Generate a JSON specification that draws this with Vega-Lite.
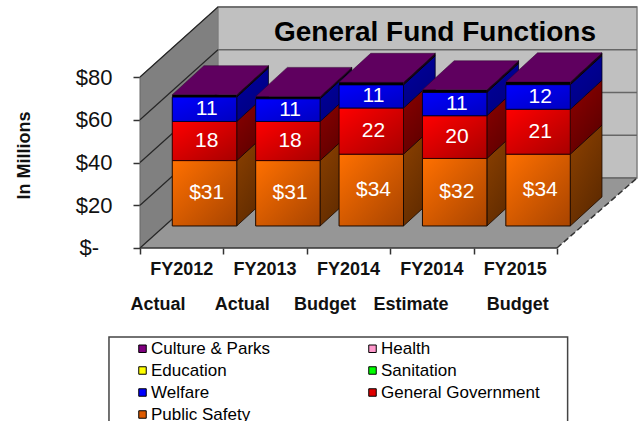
{
"$schema":"https://vega.github.io/schema/vega-lite/v6.json",
"autosize":{"type":"none"},
"padding":{"left":140,"right":3,"top":7,"bottom":173},
"width":497,"height":241,
"background":"#ffffff",
"title":{"text":"General Fund Functions","anchor":"start","frame":"group","font":"Liberation Sans","fontSize":28,"fontWeight":"bold","color":"#000000","dx":134,"dy":42,"offset":0},
"config":{"view":{"stroke":null},
"legend":{"orient":"none","legendX":-6,"legendY":333,"columns":2,"columnPadding":93,"rowPadding":4,"symbolType":"square","symbolSize":56,"symbolStrokeColor":"#000000","symbolStrokeWidth":1,"labelFont":"Liberation Sans","labelFontSize":17,"labelOffset":0,"labelColor":"#000000","titlePadding":0}},
"datasets":{
"depths":[{"d":0},{"d":1}],
"levels":[{"level":0},{"level":20},{"level":40},{"level":60},{"level":80}],
"one":[{"name":"box"}],
"periods":[{"period":"FY2012","basis":"Actual"},{"period":"FY2013","basis":"Actual"},{"period":"FY2014","basis":"Budget"},{"period":"FY2014","basis":"Estimate"},{"period":"FY2015","basis":"Budget"}]
},
"data":{"values":[
{"period":"FY2012","basis":"Actual","series":"Public Safety","value":30.6},
{"period":"FY2012","basis":"Actual","series":"General Government","value":18.3},
{"period":"FY2012","basis":"Actual","series":"Welfare","value":11.4},
{"period":"FY2012","basis":"Actual","series":"Culture & Parks","value":1.1},
{"period":"FY2013","basis":"Actual","series":"Public Safety","value":30.6},
{"period":"FY2013","basis":"Actual","series":"General Government","value":18.3},
{"period":"FY2013","basis":"Actual","series":"Welfare","value":10.6},
{"period":"FY2013","basis":"Actual","series":"Culture & Parks","value":1.1},
{"period":"FY2014","basis":"Budget","series":"Public Safety","value":33.6},
{"period":"FY2014","basis":"Budget","series":"General Government","value":21.6},
{"period":"FY2014","basis":"Budget","series":"Welfare","value":10.8},
{"period":"FY2014","basis":"Budget","series":"Culture & Parks","value":1.2},
{"period":"FY2014","basis":"Estimate","series":"Public Safety","value":31.6},
{"period":"FY2014","basis":"Estimate","series":"General Government","value":20},
{"period":"FY2014","basis":"Estimate","series":"Welfare","value":10.9},
{"period":"FY2014","basis":"Estimate","series":"Culture & Parks","value":1.2},
{"period":"FY2015","basis":"Budget","series":"Public Safety","value":33.6},
{"period":"FY2015","basis":"Budget","series":"General Government","value":21},
{"period":"FY2015","basis":"Budget","series":"Welfare","value":11.5},
{"period":"FY2015","basis":"Budget","series":"Culture & Parks","value":1.3}
]},
"transform":[
{"calculate":"indexof(['FY2012 Actual','FY2013 Actual','FY2014 Budget','FY2014 Estimate','FY2015 Budget'],datum.period+' '+datum.basis)","as":"slot"},
{"calculate":"indexof(['Public Safety','General Government','Welfare','Culture & Parks'],datum.series)","as":"order"},
{"stack":"value","groupby":["slot"],"sort":[{"field":"order","order":"ascending"}],"as":["v0","v1"]},
{"calculate":"datum.slot+0.387","as":"left"},
{"calculate":"datum.slot+1.16","as":"right"},
{"calculate":"10.3+datum.v0","as":"lo"},
{"calculate":"10.3+datum.v1","as":"hi"},
{"calculate":"(datum.lo+datum.hi)/2","as":"mid"},
{"calculate":"datum.slot+0.8","as":"cx"},
{"calculate":"datum.order==0?'$'+format(datum.value,'.0f'):format(datum.value,'.0f')","as":"label"},
{"calculate":"[0,1]","as":"dd"},
{"flatten":["dd"]},
{"calculate":"datum.right+datum.dd*0.38","as":"sx"},
{"calculate":"datum.lo+datum.dd*13.6","as":"sy"},
{"calculate":"datum.hi+datum.dd*13.6","as":"sy2"},
{"calculate":"datum.left+datum.dd*0.38","as":"tx"},
{"calculate":"datum.right+datum.dd*0.38","as":"tx2"}
],
"resolve":{"axis":{"x":"independent","y":"independent"}},
"layer":[
{"data":{"name":"depths"},
 "transform":[{"calculate":"datum.d*0.935","as":"x"},{"calculate":"datum.d*32.75","as":"y"},{"calculate":"80+datum.d*32.75","as":"y2"}],
 "mark":{"type":"area","color":"#808080","stroke":"#666666","strokeWidth":1,"clip":false},
 "encoding":{"x":{"field":"x","type":"quantitative","scale":{"domain":[0,5.96],"nice":false,"zero":false},"title":null,
   "axis":{"orient":"bottom","values":[0,1,2,3,4,5],"labels":false,"domain":false,"grid":false,"tickSize":6,"tickColor":"#333333","tickWidth":1.5,"title":null}},
  "y":{"field":"y","type":"quantitative","scale":{"domain":[0,112.75],"nice":false,"zero":false},
   "axis":{"orient":"left","values":[0,20,40,60,80],"labelExpr":"datum.value==0?'':'$'+datum.value","domain":false,"grid":false,"tickSize":7,"tickColor":"#333333","tickWidth":1.5,"labelPadding":21,"labelFont":"Liberation Sans","labelFontSize":22,"labelColor":"#111111","title":"In Millions","titleFont":"Liberation Sans","titleFontSize":18,"titleFontWeight":"bold","titleColor":"#111111","titleX":-107,"titleY":148}},
  "y2":{"field":"y2"}}},
{"data":{"name":"one"},"mark":{"type":"text","text":"$-","font":"Liberation Sans","fontSize":22,"color":"#111111","align":"right","baseline":"middle"},
 "encoding":{"x":{"datum":-0.49,"type":"quantitative","axis":null},"y":{"datum":0,"type":"quantitative","axis":null}}},
{"data":{"name":"one"},"mark":{"type":"rect","fill":"#c0c0c0","stroke":"#808080","strokeWidth":1.5},
 "encoding":{"x":{"datum":0.935,"type":"quantitative","axis":null},"x2":{"datum":5.96},"y":{"datum":32.75,"type":"quantitative","axis":null},"y2":{"datum":112.75}}},
{"data":{"name":"depths"},
 "transform":[{"calculate":"datum.d*0.935","as":"x"},{"calculate":"5+datum.d*0.96","as":"x2"},{"calculate":"datum.d*32.75","as":"y"}],
 "mark":{"type":"area","orient":"horizontal","color":"#969696"},
 "encoding":{"x":{"field":"x","type":"quantitative","axis":null},"x2":{"field":"x2"},"y":{"field":"y","type":"quantitative","axis":null}}},
{"data":{"name":"levels"},
 "transform":[{"calculate":"datum.level+32.75","as":"back"},{"calculate":"0.935","as":"bx"},{"calculate":"5.96","as":"rx"}],
 "mark":{"type":"rule","color":"#666666","strokeWidth":1.5},
 "encoding":{"x":{"field":"bx","type":"quantitative","axis":null},"x2":{"field":"rx"},"y":{"field":"back","type":"quantitative","axis":null}}},
{"data":{"name":"levels"},
 "transform":[{"calculate":"datum.level+32.75","as":"back"},{"calculate":"0","as":"fx"},{"calculate":"0.935","as":"bx"}],
 "mark":{"type":"rule","color":"#262626","strokeWidth":1.2},
 "encoding":{"x":{"field":"fx","type":"quantitative","axis":null},"x2":{"field":"bx"},"y":{"field":"level","type":"quantitative","axis":null},"y2":{"field":"back"}}},
{"data":{"name":"one"},"mark":{"type":"rule","color":"#333333","strokeWidth":1.5},
 "encoding":{"x":{"datum":0,"type":"quantitative","axis":null},"x2":{"datum":5},"y":{"datum":0,"type":"quantitative","axis":null}}},
{"data":{"name":"one"},"mark":{"type":"rule","color":"#333333","strokeWidth":1.5,"strokeDash":[6,3]},
 "encoding":{"x":{"datum":5,"type":"quantitative","axis":null},"x2":{"datum":5.96},"y":{"datum":0,"type":"quantitative","axis":null},"y2":{"datum":32.75}}},
{"data":{"name":"one"},"mark":{"type":"rect","fill":"#ffffff","stroke":"#444444","strokeWidth":1.5,"clip":false},
 "encoding":{"x":{"datum":-0.372,"type":"quantitative","axis":null},"x2":{"datum":5.128},"y":{"datum":-41.6,"type":"quantitative","axis":null},"y2":{"datum":-95}}},
{"data":{"name":"periods"},
 "transform":[{"window":[{"op":"row_number","as":"n"}]},{"calculate":"datum.n-0.5","as":"px"},{"calculate":"-10.4","as":"py"}],
 "mark":{"type":"text","font":"Liberation Sans","fontSize":18,"fontWeight":"bold","color":"#111111","baseline":"middle","align":"center"},
 "encoding":{"x":{"field":"px","type":"quantitative","axis":null},"y":{"field":"py","type":"quantitative","axis":null},"text":{"field":"period"}}},
{"data":{"name":"periods"},
 "transform":[{"window":[{"op":"row_number","as":"n"}]},{"calculate":"[0.216,1.225,2.22,3.25,4.53][datum.n-1]","as":"px"},{"calculate":"-26.8","as":"py"}],
 "mark":{"type":"text","font":"Liberation Sans","fontSize":18,"fontWeight":"bold","color":"#111111","baseline":"middle","align":"center"},
 "encoding":{"x":{"field":"px","type":"quantitative","axis":null},"y":{"field":"py","type":"quantitative","axis":null},"text":{"field":"basis"}}},
{"transform":[{"filter":"datum.order==0"}],
 "mark":{"type":"area","stroke":"#1a0a00","strokeWidth":0.8,"fill":{"gradient":"linear","x1":0,"y1":0,"x2":0.6,"y2":1,"stops":[{"offset":0,"color":"#8f4200"},{"offset":1,"color":"#5e2a00"}]}},
 "encoding":{"x":{"field":"sx","type":"quantitative","axis":null},"y":{"field":"sy","type":"quantitative","axis":null},"y2":{"field":"sy2"},"detail":{"field":"slot"}}},
{"transform":[{"filter":"datum.order==1"}],
 "mark":{"type":"area","stroke":"#1a0000","strokeWidth":0.8,"fill":{"gradient":"linear","x1":0,"y1":0,"x2":0.6,"y2":1,"stops":[{"offset":0,"color":"#900000"},{"offset":1,"color":"#5c0000"}]}},
 "encoding":{"x":{"field":"sx","type":"quantitative","axis":null},"y":{"field":"sy","type":"quantitative","axis":null},"y2":{"field":"sy2"},"detail":{"field":"slot"}}},
{"transform":[{"filter":"datum.order==2"}],
 "mark":{"type":"area","stroke":"#000020","strokeWidth":0.8,"fill":{"gradient":"linear","x1":0,"y1":0,"x2":0.6,"y2":1,"stops":[{"offset":0,"color":"#0000a0"},{"offset":1,"color":"#000080"}]}},
 "encoding":{"x":{"field":"sx","type":"quantitative","axis":null},"y":{"field":"sy","type":"quantitative","axis":null},"y2":{"field":"sy2"},"detail":{"field":"slot"}}},
{"transform":[{"filter":"datum.order==3"}],
 "mark":{"type":"area","color":"#1a001a","stroke":"#000000","strokeWidth":0.8},
 "encoding":{"x":{"field":"sx","type":"quantitative","axis":null},"y":{"field":"sy","type":"quantitative","axis":null},"y2":{"field":"sy2"},"detail":{"field":"slot"}}},
{"transform":[{"filter":"datum.order==3"},{"calculate":"datum.hi+datum.dd*13.6","as":"ty"}],
 "mark":{"type":"area","orient":"horizontal","color":"#5f005f","stroke":"#300030","strokeWidth":0.5},
 "encoding":{"x":{"field":"tx","type":"quantitative","axis":null},"x2":{"field":"tx2"},"y":{"field":"ty","type":"quantitative","axis":null},"detail":{"field":"slot"}}},
{"transform":[{"filter":"datum.dd==0"}],"mark":{"type":"rect"},
 "encoding":{"x":{"field":"left","type":"quantitative","axis":null},"x2":{"field":"right"},"y":{"field":"lo","type":"quantitative","axis":null},"y2":{"field":"hi"},
  "color":{"field":"series","type":"nominal","title":null,"scale":{"domain":["Culture & Parks","Education","Welfare","Public Safety","Health","Sanitation","General Government"],"range":["#800080","#ffff00","#0000ff","#dd5a00","#ff99cc","#00ff00","#e00000"]}}}},
{"transform":[{"filter":"datum.dd==0 && datum.order==0"}],
 "mark":{"type":"rect","stroke":"#1a0a00","strokeWidth":1,"fill":{"gradient":"linear","x1":0,"y1":0,"x2":1,"y2":1,"stops":[{"offset":0,"color":"#ff7000"},{"offset":1,"color":"#a84400"}]}},
 "encoding":{"x":{"field":"left","type":"quantitative","axis":null},"x2":{"field":"right"},"y":{"field":"lo","type":"quantitative","axis":null},"y2":{"field":"hi"}}},
{"transform":[{"filter":"datum.dd==0 && datum.order==1"}],
 "mark":{"type":"rect","stroke":"#300000","strokeWidth":1,"fill":{"gradient":"linear","x1":0,"y1":0,"x2":1,"y2":1,"stops":[{"offset":0,"color":"#ff0000"},{"offset":1,"color":"#a80000"}]}},
 "encoding":{"x":{"field":"left","type":"quantitative","axis":null},"x2":{"field":"right"},"y":{"field":"lo","type":"quantitative","axis":null},"y2":{"field":"hi"}}},
{"transform":[{"filter":"datum.dd==0 && datum.order==2"}],
 "mark":{"type":"rect","stroke":"#000030","strokeWidth":1,"fill":{"gradient":"linear","x1":0,"y1":0,"x2":1,"y2":1,"stops":[{"offset":0,"color":"#0000ff"},{"offset":1,"color":"#0000c0"}]}},
 "encoding":{"x":{"field":"left","type":"quantitative","axis":null},"x2":{"field":"right"},"y":{"field":"lo","type":"quantitative","axis":null},"y2":{"field":"hi"}}},
{"transform":[{"filter":"datum.dd==0 && datum.order==3"}],
 "mark":{"type":"rect","fill":"#000000"},
 "encoding":{"x":{"field":"left","type":"quantitative","axis":null},"x2":{"field":"right"},"y":{"field":"lo","type":"quantitative","axis":null},"y2":{"field":"hi"}}},
{"transform":[{"filter":"datum.dd==0 && datum.order<3"}],
 "mark":{"type":"text","font":"Liberation Sans","fontSize":21,"color":"#ffffff","baseline":"middle","align":"center"},
 "encoding":{"x":{"field":"cx","type":"quantitative","axis":null},"y":{"field":"mid","type":"quantitative","axis":null},"text":{"field":"label"}}}
]
}
